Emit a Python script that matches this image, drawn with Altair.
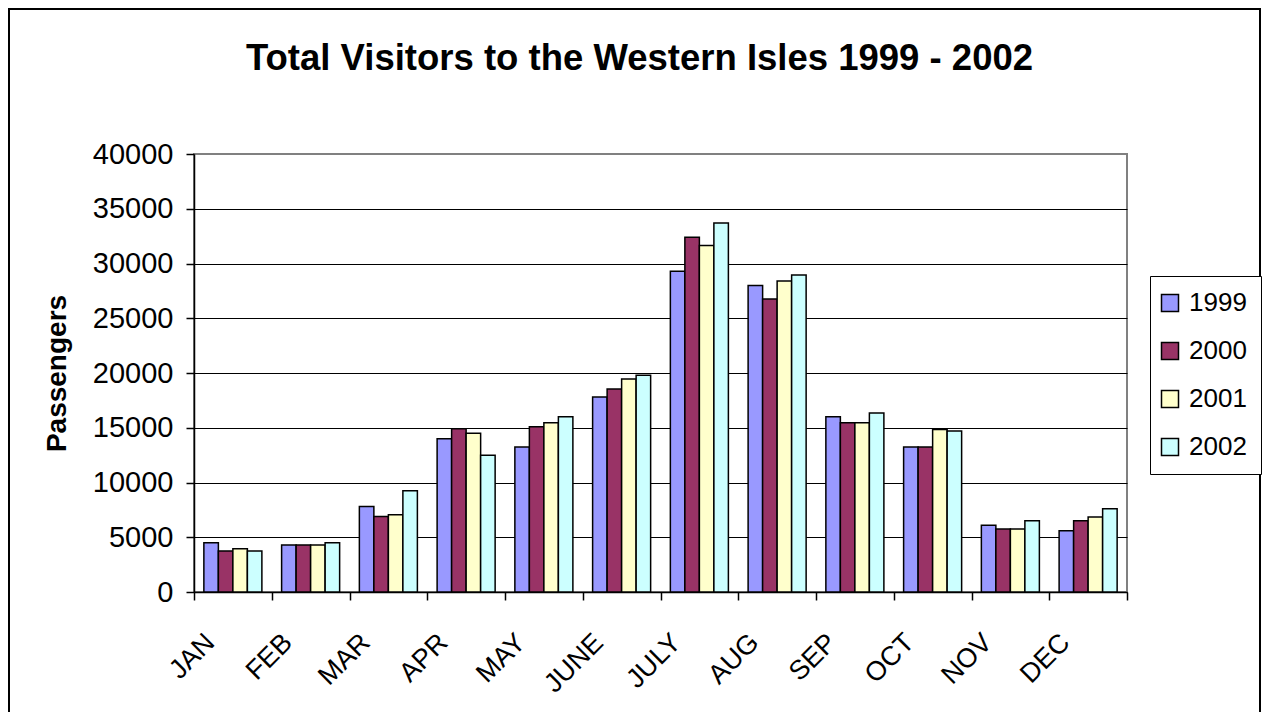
import altair as alt
import pandas as pd

months = ["JAN", "FEB", "MAR", "APR", "MAY", "JUNE", "JULY", "AUG", "SEP", "OCT", "NOV", "DEC"]
years = ["1999", "2000", "2001", "2002"]
v1999 = [4500, 4300, 7800, 14000, 13250, 17800, 29300, 28000, 16000, 13250, 6100, 5600]
v2000 = [3750, 4300, 6900, 14900, 15100, 18550, 32400, 26750, 15450, 13250, 5750, 6500]
v2001 = [3950, 4300, 7050, 14500, 15450, 19450, 31650, 28400, 15450, 14850, 5750, 6850]
v2002 = [3750, 4500, 9250, 12500, 16000, 19800, 33700, 28950, 16350, 14700, 6500, 7600]
colors = ["#9999FF", "#993366", "#FFFFCC", "#CCFFFF"]

rows = []
for y, vals in zip(years, [v1999, v2000, v2001, v2002]):
    for m, v in zip(months, vals):
        rows.append({"month": m, "year": y, "value": v})
df = pd.DataFrame(rows)

FONT = "Liberation Sans"

bars = alt.Chart(df).mark_bar(stroke="black", strokeWidth=1.5).encode(
    x=alt.X("month:N", sort=months,
            scale=alt.Scale(paddingInner=0, paddingOuter=0),
            axis=alt.Axis(title=None, labelAngle=-45, labelAlign="right", labelBaseline="middle",
                          labelFontSize=27, labelColor="black", labelPadding=38, labelOffset=-23,
                          tickBand="extent", tickSize=8, tickColor="black", tickWidth=1.5,
                          domainColor="black", domainWidth=1.5, grid=False)),
    xOffset=alt.XOffset("year:N", sort=years, scale=alt.Scale(paddingInner=0, paddingOuter=0.68)),
    y=alt.Y("value:Q", scale=alt.Scale(domain=[0, 40000], nice=False),
            axis=alt.Axis(title="Passengers", values=list(range(0, 40001, 5000)), format="d",
                          titleFontSize=28, titleFontWeight="bold", titleColor="black",
                          titleAngle=-90, titleX=-137, titleY=219, titleAlign="center",
                          titleBaseline="middle",
                          labelFontSize=29, labelColor="black", labelPadding=13,
                          tickSize=8, tickColor="black", tickWidth=1.5,
                          domainColor="black", domainWidth=1.5,
                          gridColor=alt.condition("datum.value == 40000", alt.value("#808080"), alt.value("black")),
                          gridWidth=1.2)),
    color=alt.Color("year:N", sort=years, scale=alt.Scale(domain=years, range=colors),
                    legend=alt.Legend(title=None, orient="none", legendX=956, legendY=122,
                                      strokeColor="black", fillColor="white", padding=14,
                                      symbolType="square", symbolSize=289, symbolStrokeColor="black",
                                      symbolStrokeWidth=1.5, symbolOpacity=1, symbolOffset=-7,
                                      labelFontSize=26, labelColor="black", labelOffset=6,
                                      rowPadding=22)),
)

frame = alt.Chart(pd.DataFrame({"a": [0]})).mark_rect(filled=False, stroke="black", strokeWidth=2).encode(
    x=alt.value(-185), x2=alt.value(1066), y=alt.value(-145), y2=alt.value(800)
)

chart = alt.layer(frame, bars).properties(
    width=933, height=438,
    autosize=alt.AutoSizeParams(type="none"),
    padding={"left": 186, "top": 146, "right": 135, "bottom": 120},
    title=alt.Title("Total Visitors to the Western Isles 1999 - 2002", fontSize=36.5, fontWeight="bold",
                    font=FONT, color="black", anchor="middle", frame="group", dx=-21,
                    baseline="alphabetic", offset=0, dy=98),
).configure(font=FONT).configure_view(stroke="#808080", strokeWidth=2)

chart.save("out.html", embed_options={"renderer": "svg", "actions": False})
